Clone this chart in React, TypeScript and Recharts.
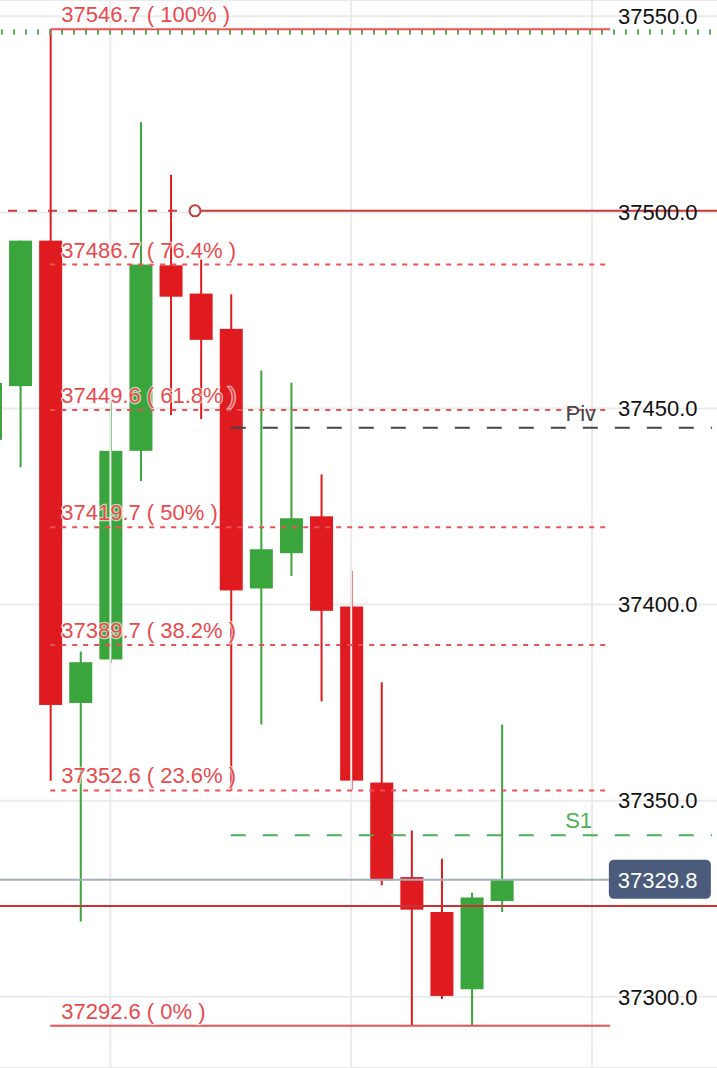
import {
  Bar,
  CartesianGrid,
  ComposedChart,
  ReferenceDot,
  ReferenceLine,
  XAxis,
  YAxis,
} from "recharts"

// OHLC per bar, oldest first (bar 0 is cut off at the left edge)
const opens = [
  37442.0, 37455.7, 37492.8, 37374.9, 37386.0, 37439.2, 37486.5, 37479.3, 37470.3,
  37404.1, 37413.1, 37422.5, 37399.5, 37354.6, 37330.5, 37321.6, 37301.9, 37324.4,
]
const highs = [
  37456.5, 37492.8, 37546.7, 37388.0, 37452.3, 37523.0, 37509.6, 37488.0, 37479.1,
  37459.7, 37456.6, 37433.2, 37408.6, 37380.2, 37342.4, 37335.2, 37326.5, 37369.4,
]
const lows = [
  37442.0, 37435.0, 37355.1, 37319.2, 37385.1, 37431.5, 37448.3, 37447.3, 37352.6,
  37369.4, 37407.3, 37375.3, 37352.8, 37328.4, 37292.6, 37299.4, 37292.8, 37321.6,
]
const closes = [
  37456.5, 37492.8, 37374.4, 37385.3, 37439.2, 37486.7, 37478.5, 37467.5, 37403.6,
  37414.1, 37422.0, 37398.4, 37355.1, 37329.7, 37322.2, 37300.2, 37325.3, 37329.8,
]

// fibonacci retracement from the swing high (bar 2) to the swing low
const fibRatios = ["100%", "76.4%", "61.8%", "50%", "38.2%", "23.6%", "0%"]
const fibLevels = [37546.7, 37486.7, 37449.6, 37419.7, 37389.7, 37352.6, 37292.6]

const priceTicks = [37300, 37350, 37400, 37450, 37500, 37550]
const gridBars = [4, 12, 20]

const resistance = 37546.0
const alertPrice = 37500.4
const pivot = 37445.1
const support1 = 37341.2
const lastPrice = 37329.8
const stopPrice = 37323.1

const X_MIN = 0.332
const X_MAX = 24.153
const FIB_START = 2
const FIB_END = 20.6
const LEVEL_START = 8

const RED = "#e01b1f"
const GREEN = "#3ba53d"
const FIB_TEXT = "#ea4a4e"
const FIB_LINE = "#ef5055"
const ALERT = "#c53a3d"
const PIV = "#44444c"
const S1 = "#4caf50"
const PRICE_LINE = "#a5afbd"
const PRICE_BOX = "#4b5b7b"
const GRID = "#ebebeb"
const FONT = "'Liberation Sans', Arial, Helvetica, sans-serif"
const FONT_SIZE = 22

const candles = opens.map((open, i) => ({
  i,
  open,
  high: highs[i],
  low: lows[i],
  close: closes[i],
  range: [lows[i], highs[i]],
}))

function Candle(props: any) {
  const { x, y, width, height, payload } = props
  if (x == null || y == null) return null
  const { open, close, high, low } = payload
  const top = Math.min(y, y + height)
  const h = Math.abs(height)
  const ratio = high > low ? h / (high - low) : 0
  const color = close >= open ? GREEN : RED
  const bodyTop = top + (high - Math.max(open, close)) * ratio
  const bodyH = Math.max(1, Math.abs(close - open) * ratio)
  const cx = x + width / 2
  return (
    <g>
      <line x1={cx} x2={cx} y1={top} y2={top + h} stroke={color} strokeWidth={2} />
      <rect x={x} y={bodyTop} width={width} height={bodyH} fill={color} />
    </g>
  )
}

function PriceTick(props: any) {
  const { y, payload } = props
  return (
    <text x={618} y={y} dy={7.8} fill="#111" fontSize={FONT_SIZE} fontFamily={FONT}>
      {Number(payload.value).toFixed(1)}
    </text>
  )
}

function LevelLabel(props: any) {
  const { viewBox, text, color, dx = 11, fromEnd = false, halo = false } = props
  if (!viewBox) return null
  const x = fromEnd ? viewBox.x + viewBox.width - dx : viewBox.x + dx
  return (
    <text
      x={x}
      y={viewBox.y - 7}
      fill={color}
      fontSize={FONT_SIZE}
      fontFamily={FONT}
      textAnchor={fromEnd ? "end" : "start"}
      stroke={halo ? "rgba(255,255,255,0.65)" : "none"}
      strokeWidth={halo ? 2.5 : 0}
      paintOrder="stroke"
    >
      {text}
    </text>
  )
}

function LastPriceTag(props: any) {
  const { viewBox, value } = props
  if (!viewBox) return null
  const left = viewBox.x + viewBox.width
  return (
    <g>
      <rect x={left} y={viewBox.y - 20} width={102} height={39} rx={5} fill={PRICE_BOX} />
      <text x={left + 9} y={viewBox.y} dy={7.8} fill="#fff" fontSize={FONT_SIZE} fontFamily={FONT}>
        {value.toFixed(1)}
      </text>
    </g>
  )
}

export default function App() {
  return (
    <div style={{ position: "absolute", left: 0, top: 0, width: 717, height: 1068, background: "#fff" }}>
      <style>{"body{margin:0}"}</style>
      <ComposedChart
        width={717}
        height={1068}
        data={candles}
        margin={{ top: 0, right: 0, bottom: 0, left: 0 }}
      >
        <CartesianGrid vertical={false} stroke={GRID} strokeWidth={2} />
        <XAxis dataKey="i" type="number" domain={[X_MIN, X_MAX]} allowDataOverflow hide />
        <YAxis
          orientation="right"
          mirror
          domain={[37281.82, 37554.16]}
          allowDataOverflow
          ticks={priceTicks}
          tick={<PriceTick />}
          axisLine={false}
          tickLine={false}
        />

        {gridBars.map((b) => (
          <ReferenceLine key={`g${b}`} x={b} stroke={GRID} strokeWidth={2} />
        ))}

        <ReferenceLine
          y={resistance}
          stroke={S1}
          strokeWidth={5}
          strokeDasharray="2 10"
          strokeDashoffset={6}
        />

        {fibLevels.map((v, k) => (
          <ReferenceLine
            key={`f${k}`}
            segment={[
              { x: FIB_START, y: v },
              { x: FIB_END, y: v },
            ]}
            stroke={FIB_LINE}
            strokeWidth={2}
            strokeDasharray={k === 0 || k === fibLevels.length - 1 ? undefined : "5 6"}
          />
        ))}

        {/* price alert: dashed lead-in, handle, then solid to the edge */}
        <ReferenceLine
          segment={[
            { x: 0.598, y: alertPrice },
            { x: 6.31, y: alertPrice },
          ]}
          stroke={ALERT}
          strokeWidth={2}
          strokeDasharray="9 11"
        />
        <ReferenceLine
          segment={[
            { x: 7.01, y: alertPrice },
            { x: X_MAX, y: alertPrice },
          ]}
          stroke={ALERT}
          strokeWidth={2}
        />
        <ReferenceDot x={6.81} y={alertPrice} r={5.5} fill="#fff" stroke={ALERT} strokeWidth={2} />

        <ReferenceLine
          segment={[
            { x: X_MIN, y: lastPrice },
            { x: 20.56, y: lastPrice },
          ]}
          stroke={PRICE_LINE}
          strokeWidth={2}
        />

        <Bar dataKey="range" barSize={23} shape={<Candle />} isAnimationActive={false} />

        <ReferenceLine y={stopPrice} stroke="#cc3235" strokeWidth={2} />

        <ReferenceLine
          segment={[
            { x: LEVEL_START, y: pivot },
            { x: 23.99, y: pivot },
          ]}
          stroke={PIV}
          strokeWidth={2}
          strokeDasharray="15 17"
          label={<LevelLabel text="Piv" color={PIV} fromEnd dx={116} />}
        />
        <ReferenceLine
          segment={[
            { x: LEVEL_START, y: support1 },
            { x: 23.99, y: support1 },
          ]}
          stroke={S1}
          strokeWidth={2}
          strokeDasharray="15 17"
          label={<LevelLabel text="S1" color={S1} fromEnd dx={120} />}
        />

        {fibLevels.map((v, k) => (
          <ReferenceLine
            key={`fl${k}`}
            segment={[
              { x: FIB_START, y: v },
              { x: FIB_END, y: v },
            ]}
            stroke="none"
            label={
              <LevelLabel text={`${v.toFixed(1)} ( ${fibRatios[k]} )`} color={FIB_TEXT} halo />
            }
          />
        ))}

        <ReferenceLine
          segment={[
            { x: X_MIN, y: lastPrice },
            { x: 20.56, y: lastPrice },
          ]}
          stroke="none"
          label={<LastPriceTag value={lastPrice} />}
        />
      </ComposedChart>
    </div>
  )
}
